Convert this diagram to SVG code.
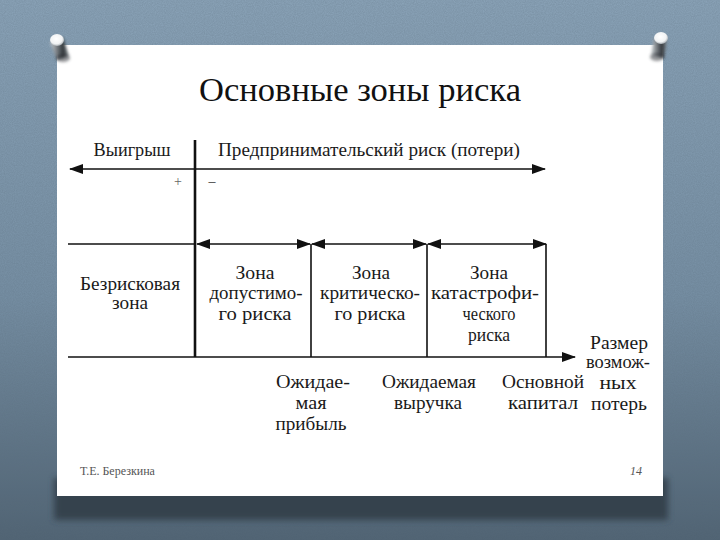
<svg xmlns="http://www.w3.org/2000/svg" width="720" height="540" viewBox="0 0 720 540">
<defs>
<linearGradient id="bg" x1="0" y1="0" x2="0" y2="1">
<stop offset="0" stop-color="#8ca5ba"/>
<stop offset="0.55" stop-color="#7790a5"/>
<stop offset="1" stop-color="#4f6272"/>
</linearGradient>
<filter id="noise" x="0" y="0" width="100%" height="100%">
<feTurbulence type="fractalNoise" baseFrequency="0.9" numOctaves="2" seed="3"/>
<feColorMatrix type="matrix" values="0 0 0 0 0.1  0 0 0 0 0.15  0 0 0 0 0.2  0 0 0 0.35 0"/>
</filter>
<filter id="blur" x="-10%" y="-50%" width="120%" height="200%"><feGaussianBlur stdDeviation="3"/></filter>
<filter id="pinblur" x="-50%" y="-50%" width="200%" height="200%"><feGaussianBlur stdDeviation="1.5"/></filter>
<linearGradient id="pinbody" x1="0" y1="0" x2="1" y2="0">
<stop offset="0" stop-color="#cfd3d6"/>
<stop offset="0.4" stop-color="#6d7378"/>
<stop offset="0.7" stop-color="#2e3338"/>
<stop offset="1" stop-color="#8a9095"/>
</linearGradient>
<radialGradient id="pincap" cx="0.45" cy="0.4" r="0.6">
<stop offset="0" stop-color="#ffffff"/>
<stop offset="0.7" stop-color="#f1f3f4"/>
<stop offset="1" stop-color="#aab0b5"/>
</radialGradient>
<marker id="ah" viewBox="0 0 14 10" refX="13" refY="5" markerWidth="14" markerHeight="10" markerUnits="userSpaceOnUse" orient="auto-start-reverse">
<path d="M0,0 L14,5 L0,10 Z" fill="#111"/>
</marker>
<style>
.t{font-size:18px;fill:#1a1a1a;text-anchor:middle}
.ln{stroke:#111;stroke-width:1.6;fill:none}
.ft{font-size:12px;fill:#555}
</style>
</defs>

<!-- background -->
<rect x="0" y="0" width="720" height="540" fill="url(#bg)"/>
<rect x="0" y="0" width="720" height="540" filter="url(#noise)"/>

<!-- panel shadow and panel -->
<rect x="54" y="478" width="614" height="42" fill="#34424e" filter="url(#blur)"/>
<rect x="57" y="45" width="606" height="451" fill="#ffffff"/>

<!-- pins -->
<g id="pin-left">
<path d="M50,42 L63,38 L69,56 L57,60 Z" fill="url(#pinbody)" filter="url(#pinblur)"/>
<ellipse cx="63" cy="58" rx="7" ry="4" fill="#2a2f34" opacity="0.5" filter="url(#pinblur)"/>
<ellipse cx="57" cy="40" rx="7" ry="6" fill="url(#pincap)"/>
</g>
<g id="pin-right">
<path d="M654,38 L667,40 L664,58 L651,55 Z" fill="url(#pinbody)" filter="url(#pinblur)"/>
<ellipse cx="657" cy="57" rx="7" ry="4" fill="#2a2f34" opacity="0.5" filter="url(#pinblur)"/>
<ellipse cx="661" cy="38" rx="7" ry="6" fill="url(#pincap)"/>
</g>

<g font-family="Liberation Serif, Times New Roman, serif">
<!-- title -->
<text x="360" y="101" font-size="34" fill="#111" text-anchor="middle" textLength="322" lengthAdjust="spacingAndGlyphs">Основные зоны риска</text>

<!-- connectors -->
<g id="connectors">
<line class="ln" x1="70" y1="169" x2="545" y2="169" marker-start="url(#ah)" marker-end="url(#ah)"/>
<line x1="195" y1="140" x2="195" y2="357" stroke="#111" stroke-width="2.6"/>
<line class="ln" x1="68" y1="244" x2="195" y2="244"/>
<line class="ln" x1="197" y1="244" x2="310" y2="244" marker-start="url(#ah)" marker-end="url(#ah)"/>
<line class="ln" x1="312" y1="244" x2="426" y2="244" marker-start="url(#ah)" marker-end="url(#ah)"/>
<line class="ln" x1="428" y1="244" x2="546" y2="244" marker-start="url(#ah)" marker-end="url(#ah)"/>
<line class="ln" x1="311" y1="244" x2="311" y2="357"/>
<line class="ln" x1="427" y1="244" x2="427" y2="357"/>
<line class="ln" x1="546" y1="244" x2="546" y2="357"/>
<line class="ln" x1="68" y1="357" x2="575" y2="357" marker-end="url(#ah)"/>
</g>

<!-- header labels -->
<g id="gain"><text class="t" x="132" y="156" textLength="77" lengthAdjust="spacingAndGlyphs">Выигрыш</text></g>
<g id="risk"><text class="t" x="369" y="156" textLength="302" lengthAdjust="spacingAndGlyphs">Предпринимательский риск (потери)</text></g>
<g id="signs">
<text class="t" x="178" y="186" style="font-size:14px;fill:#666">+</text>
<text class="t" x="212" y="186" style="font-size:14px;fill:#333">–</text>
</g>

<!-- zones -->
<g id="zone-safe">
<text class="t" x="130" y="290" textLength="100" lengthAdjust="spacingAndGlyphs">Безрисковая</text>
<text class="t" x="130" y="309" textLength="36" lengthAdjust="spacingAndGlyphs">зона</text>
</g>
<g id="zone-acceptable">
<text class="t" x="255" y="279" textLength="39" lengthAdjust="spacingAndGlyphs">Зона</text>
<text class="t" x="256" y="299" textLength="93" lengthAdjust="spacingAndGlyphs">допустимо-</text>
<text class="t" x="255" y="320" textLength="73" lengthAdjust="spacingAndGlyphs">го риска</text>
</g>
<g id="zone-critical">
<text class="t" x="371" y="279" textLength="38" lengthAdjust="spacingAndGlyphs">Зона</text>
<text class="t" x="370" y="299" textLength="100" lengthAdjust="spacingAndGlyphs">критическо-</text>
<text class="t" x="370" y="320" textLength="71" lengthAdjust="spacingAndGlyphs">го риска</text>
</g>
<g id="zone-catastrophic">
<text class="t" x="489" y="279" textLength="38" lengthAdjust="spacingAndGlyphs">Зона</text>
<text class="t" x="485" y="299" textLength="108" lengthAdjust="spacingAndGlyphs">катастрофи-</text>
<text class="t" x="489" y="320" textLength="53" lengthAdjust="spacingAndGlyphs">ческого</text>
<text class="t" x="489" y="341" textLength="42" lengthAdjust="spacingAndGlyphs">риска</text>
</g>

<!-- axis labels -->
<g id="size-losses">
<text class="t" x="619" y="349" textLength="58" lengthAdjust="spacingAndGlyphs">Размер</text>
<text class="t" x="618" y="368" textLength="64" lengthAdjust="spacingAndGlyphs">возмож-</text>
<text class="t" x="618" y="389" textLength="37" lengthAdjust="spacingAndGlyphs">ных</text>
<text class="t" x="619" y="410" textLength="56" lengthAdjust="spacingAndGlyphs">потерь</text>
</g>
<g id="expected-profit">
<text class="t" x="313" y="388" textLength="74" lengthAdjust="spacingAndGlyphs">Ожидае-</text>
<text class="t" x="311" y="409" textLength="31" lengthAdjust="spacingAndGlyphs">мая</text>
<text class="t" x="311" y="430" textLength="71" lengthAdjust="spacingAndGlyphs">прибыль</text>
</g>
<g id="expected-revenue">
<text class="t" x="429" y="388" textLength="94" lengthAdjust="spacingAndGlyphs">Ожидаемая</text>
<text class="t" x="428" y="409" textLength="68" lengthAdjust="spacingAndGlyphs">выручка</text>
</g>
<g id="capital">
<text class="t" x="543" y="388" textLength="82" lengthAdjust="spacingAndGlyphs">Основной</text>
<text class="t" x="543" y="409" textLength="70" lengthAdjust="spacingAndGlyphs">капитал</text>
</g>

<!-- footer -->
<text class="ft" x="80" y="475">Т.Е. Березкина</text>
<text class="ft" x="630" y="475" font-style="italic">14</text>
</g>
</svg>
